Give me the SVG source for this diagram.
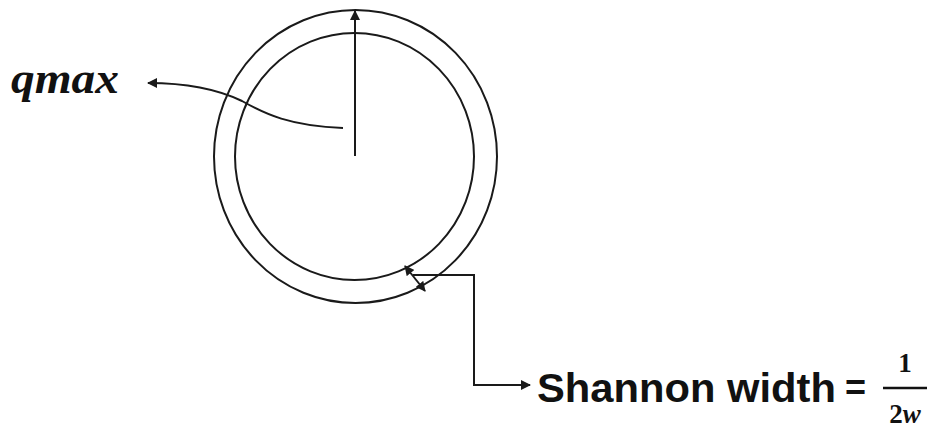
<svg xmlns="http://www.w3.org/2000/svg" width="932" height="430" viewBox="0 0 932 430">
<style>
.ln{fill:none;stroke:#1a1a1a;stroke-width:2}
.lbl{fill:#111}
</style>
<defs>
<marker id="ah" viewBox="0 0 10 10" refX="9" refY="5" markerWidth="10" markerHeight="10" markerUnits="userSpaceOnUse" orient="auto-start-reverse">
<path d="M0,0 L10,5 L0,10 z" fill="#1a1a1a"/>
</marker>
</defs>
<rect width="932" height="430" fill="#fff"/>
<g id="outer-ring">
<ellipse class="ln" cx="355.5" cy="156.5" rx="141.5" ry="146.5"/>
</g>
<g id="inner-ring">
<ellipse class="ln" cx="354.5" cy="156.5" rx="119.5" ry="123.5"/>
</g>
<g id="qmax-label">
<text class="lbl" x="11" y="93" font-family="Liberation Serif, serif" font-weight="bold" font-style="italic" font-size="44" textLength="108" lengthAdjust="spacingAndGlyphs">qmax</text>
</g>
<g id="shannon-label">
<text class="lbl" x="537" y="402" font-family="Liberation Sans, Arial, sans-serif" font-weight="bold" font-size="41" textLength="299" lengthAdjust="spacingAndGlyphs">Shannon width</text>
<text class="lbl" x="845" y="400" font-family="Liberation Sans, Arial, sans-serif" font-weight="bold" font-size="36">=</text>
<text class="lbl" x="905" y="372" text-anchor="middle" font-family="Liberation Serif, serif" font-weight="bold" font-size="27">1</text>
<line x1="883" y1="388" x2="927" y2="388" stroke="#111" stroke-width="2.5"/>
<text class="lbl" x="905" y="423" text-anchor="middle" font-family="Liberation Serif, serif" font-weight="bold" font-size="27">2<tspan font-style="italic">w</tspan></text>
</g>
<g id="connectors">
<line class="ln" x1="355" y1="156" x2="355" y2="11" marker-end="url(#ah)"/>
<path class="ln" d="M343,128 C290,126 265,114 242,101 C215,88 185,83 148,83" marker-end="url(#ah)"/>
<line class="ln" x1="405" y1="266" x2="425" y2="291" marker-start="url(#ah)" marker-end="url(#ah)"/>
<polyline class="ln" points="413,275 474,275 474,385 530,385" marker-end="url(#ah)"/>
</g>
</svg>
